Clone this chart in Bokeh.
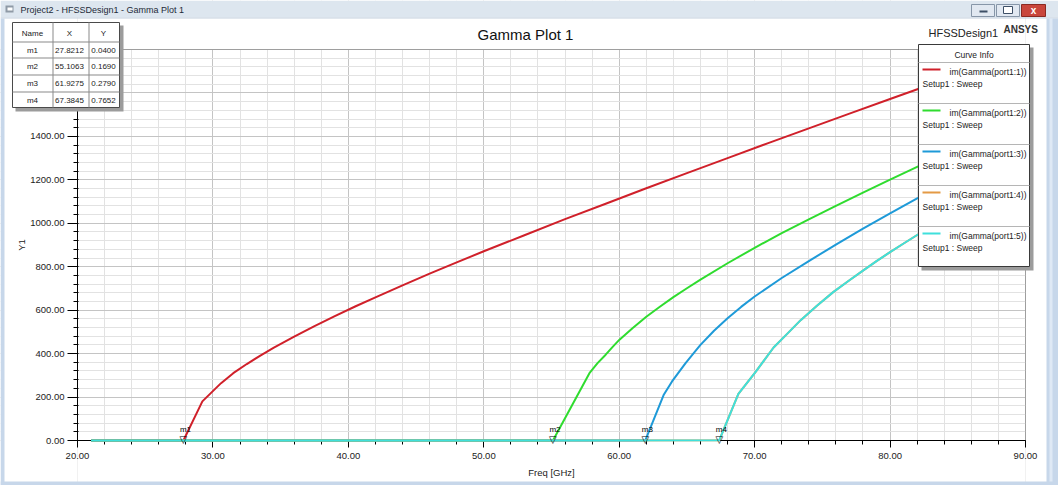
from bokeh.plotting import figure
from bokeh.models import (Range1d, FixedTicker, PrintfTickFormatter, BoxAnnotation,
                          Label, ColumnDataSource)
from bokeh.core.properties import value
from bokeh.embed import file_html
from bokeh.resources import INLINE

# ---------------- data ----------------
freq_p1 = [21.0, 27.8212, 29.22, 30.6, 31.5, 32.5, 33.5, 34.5, 36.0, 37.5, 39.0,
           40.5, 42.0, 44.0, 46.0, 48.0, 50.0, 53.0, 56.0, 59.0, 62.0, 65.0,
           68.0, 71.0, 74.0, 77.0, 80.0, 83.0, 86.0, 90.0]
im_p1 = [0.0, 0.04, 180, 264, 310, 352, 391, 428, 478, 527, 573,
         617, 659, 714, 768, 820, 871, 945, 1019, 1090, 1161, 1231,
         1300, 1369, 1437, 1505, 1572, 1639, 1705, 1790]

freq_p2 = [21.0, 55.1063, 57.8, 58.4, 59.0, 59.5, 60.0, 61.0, 62.0, 63.0, 64.0,
           65.0, 66.0, 68.0, 70.0, 72.0, 74.0, 76.0, 78.0, 80.0, 82.0, 86.0, 90.0]
im_p2 = [0.0, 0.169, 310, 356, 395, 430, 463, 518, 570, 616, 660,
         701, 741, 816, 887, 955, 1018, 1080, 1141, 1201, 1260, 1374, 1481]

freq_p3 = [21.0, 61.9275, 63.3, 63.9, 64.9, 65.5, 66.0, 67.0, 68.0, 69.0, 70.0,
           72.0, 74.0, 76.0, 78.0, 80.0, 82.0, 86.0, 90.0]
im_p3 = [0.0, 0.279, 212, 272, 356, 402, 440, 505, 563, 615, 663,
         748, 826, 902, 975, 1046, 1115, 1240, 1358]

freq_p4 = [21.0, 67.3845, 68.8, 70.06, 71.4, 72.4, 73.4, 74.6, 75.8, 77.0, 78.0,
           79.0, 80.0, 81.0, 82.0, 86.0, 90.0]
im_p4 = [0.0, 0.7652, 215, 315, 428, 491, 554, 620, 683, 738, 782,
         826, 867, 907, 946, 1090, 1226]

freq_p5 = [21.0, 67.3845, 68.8, 70.06, 71.4, 72.4, 73.4, 74.6, 75.8, 77.0, 78.0,
           79.0, 80.0, 81.0, 82.0, 86.0, 90.0]
im_p5 = [0.0, 0.7652, 215, 315, 428, 491, 554, 620, 683, 738, 782,
         826, 867, 907, 946, 1090, 1226]

curve_names = ["im(Gamma(port1:1))", "im(Gamma(port1:2))", "im(Gamma(port1:3))",
               "im(Gamma(port1:4))", "im(Gamma(port1:5))"]
curve_setup = "Setup1 : Sweep"
curve_colors = ["#d0202a", "#2fdc2f", "#1e9ad8", "#e49a45", "#3fe0dc"]

marker_names = ["m1", "m2", "m3", "m4"]
marker_x = [27.8212, 55.1063, 61.9275, 67.3845]
marker_y = [0.0400, 0.1690, 0.2790, 0.7652]

x_major = [20, 30, 40, 50, 60, 70, 80, 90]
x_minor = list(range(20, 91, 2))
y_major = [0, 200, 400, 600, 800, 1000, 1200, 1400, 1600, 1800]
y_minor = list(range(0, 1801, 40))
X_LIM = (20, 90)
Y_LIM = (0, 1800)

# ---------------- layout (canvas pixels) ----------------
W, H = 1058, 485
PL, PR, PT, PB = 77.0, 1025.0, 49.0, 440.0   # plot area inside the window
FONT = "Liberation Sans"

sx = (PR - PL) / (X_LIM[1] - X_LIM[0])
sy = (PB - PT) / (Y_LIM[1] - Y_LIM[0])
x_range = Range1d(X_LIM[0] - PL / sx, X_LIM[1] + (W - PR) / sx)
y_range = Range1d(Y_LIM[0] - (H - PB) / sy, Y_LIM[1] + PT / sy)

p = figure(width=W, height=H, output_backend="svg", toolbar_location=None, title=None,
           x_range=x_range, y_range=y_range, min_border=0)
p.background_fill_color = "white"
p.border_fill_color = "white"
p.outline_line_color = None

xa = p.xaxis[0]
xa.fixed_location = Y_LIM[0]
xa.bounds = X_LIM
xa.ticker = FixedTicker(ticks=x_major, minor_ticks=x_minor)
xa.formatter = PrintfTickFormatter(format="%.2f")
xa.axis_label = "Freq [GHz]"
xa.major_tick_out = 7
xa.major_tick_in = 0
xa.minor_tick_out = 4
xa.minor_tick_in = 0
xa.major_label_standoff = 5
xa.axis_label_standoff = 5

ya = p.yaxis[0]
ya.fixed_location = X_LIM[0]
ya.bounds = Y_LIM
ya.ticker = FixedTicker(ticks=y_major, minor_ticks=y_minor)
ya.formatter = PrintfTickFormatter(format="%.2f")
ya.axis_label = "Y1"
ya.major_tick_out = 10
ya.major_tick_in = 0
ya.minor_tick_out = 4
ya.minor_tick_in = 1
ya.major_label_standoff = 3
ya.axis_label_standoff = 0

for ax in (xa, ya):
    ax.axis_line_color = "#000000"
    ax.major_tick_line_color = "#000000"
    ax.minor_tick_line_color = "#000000"
    ax.major_label_text_font = FONT
    ax.major_label_text_font_size = "9.5px"
    ax.major_label_text_color = "#222222"
    ax.axis_label_text_font = FONT
    ax.axis_label_text_font_size = "9.5px"
    ax.axis_label_text_font_style = "normal"
    ax.axis_label_text_color = "#222222"

for g in (p.xgrid[0], p.ygrid[0]):
    g.grid_line_color = "#c4c4c4"
    g.grid_line_width = 1
    g.minor_grid_line_color = "#e2e2e2"
    g.minor_grid_line_width = 1


# ---------------- helpers for window chrome (canvas pixels) ----------------
def box(l, t, r, b, fill, line=None, lw=1, level="overlay", fill_alpha=1.0):
    ba = BoxAnnotation(left=l, right=r, top=t, bottom=b,
                       left_units="canvas", right_units="canvas",
                       top_units="canvas", bottom_units="canvas",
                       fill_color=fill, fill_alpha=fill_alpha,
                       line_color=line if line else "white",
                       line_alpha=1.0 if line else 0.0, line_width=lw,
                       level=level)
    p.add_layout(ba)


def text(x, y, s, size="8px", align="left", baseline="middle", color="#222222",
         style="normal", font=FONT):
    lab = Label(x=x, y=y, x_units="canvas", y_units="canvas", text=s,
                text_font=font, text_font_size=size, text_align=align,
                text_baseline=baseline, text_color=color, text_font_style=style,
                level="overlay")
    p.add_layout(lab)


# white covers outside the plot area (hide grid lines beyond the frame)
box(0, 0, PL, H, "white", level="underlay")
box(PR, 0, W, H, "white", level="underlay")
box(PL, 0, PR, PT, "white", level="underlay")
box(PL, PB, PR, H, "white", level="underlay")

# plot border (top / right edges)
p.add_layout(BoxAnnotation(left=X_LIM[0], right=X_LIM[1], bottom=Y_LIM[0], top=Y_LIM[1],
                           fill_alpha=0.0, line_color="#000000", line_width=1,
                           level="guide"))

# ---------------- curves ----------------
series = [(freq_p1, im_p1), (freq_p2, im_p2), (freq_p3, im_p3),
          (freq_p4, im_p4), (freq_p5, im_p5)]
for (fx, fy), col in zip(series, curve_colors):
    p.line(fx, fy, line_color=col, line_width=2, line_join="round", level="annotation")

# ---------------- markers ----------------
msrc = ColumnDataSource(dict(x=marker_x, y=marker_y, name=marker_names))
p.text(x="x", y="y", text=value("\u25bd"), source=msrc, text_font=value("DejaVu Sans"),
       text_font_size="10px", text_align="center", text_baseline="alphabetic",
       text_color="#000000", y_offset=-1, level="annotation")
p.text(x="x", y="y", text="name", source=msrc, text_font=value(FONT),
       text_font_size="8px", text_align="left", text_baseline="bottom",
       text_color="#000000", x_offset=-3.5, y_offset=-6, level="annotation")

# ---------------- window chrome ----------------
box(0, 0, W, 17, "#dde6ef")
box(0, 17, W, 18, "#c3d0de")
box(5, 5, 13, 12, "#8f9aa6")
box(7, 7, 12, 10, "#ffffff")
text(20, 9.5, "Project2 - HFSSDesign1 - Gamma Plot 1", size="9px", color="#1e2a38")
box(971, 4, 994, 16, "#e1e8f1", line="#8796a8")
box(979, 10, 987, 12, "#3d4f66")
box(996, 4, 1019, 16, "#e1e8f1", line="#8796a8")
box(1003, 6, 1012, 13, "#ffffff", line="#3d4f66")
box(1021, 4, 1045, 16, "#c9463c", line="#8a2a22")
text(1033, 10, "x", size="10px", align="center", color="#ffffff", style="bold")
box(0, 18, 4, H, "#c7d7ea")
box(1046, 18, W, H, "#c7d7ea")
box(1049, 18, 1052, H, "#dfe9f5")
box(0, 481, W, H, "#c7d7ea")

# titles
text(525, 34, "Gamma Plot 1", size="15px", align="center", color="#111111")
text(928, 32, "HFSSDesign1", size="11px", color="#222222")
text(1003, 29, "ANSYS", size="10px", style="bold", color="#333333")

# marker table
box(15, 25, 123, 111, "#9c9c9c")
box(12, 22, 119, 107, "#ffffff", line="#4a4a4a")
for xv in (52, 88):
    box(xv, 22, xv + 1, 107, "#8a8a8a")
for yv in (41, 57, 74, 91):
    box(12, yv, 119, yv + 1, "#8a8a8a")
col_cx = [32, 69, 103]
text(col_cx[0], 32.5, "Name", align="center")
text(col_cx[1], 32.5, "X", align="center")
text(col_cx[2], 32.5, "Y", align="center")
row_cy = [49.5, 66, 83, 99.5]
for i in range(4):
    text(col_cx[0], row_cy[i], marker_names[i], align="center")
    text(col_cx[1], row_cy[i], "%.4f" % marker_x[i], align="center")
    text(col_cx[2], row_cy[i], "%.4f" % marker_y[i], align="center")

# curve info box
box(921, 47, 1033, 270, "#9c9c9c")
box(918, 44, 1029, 266, "#ffffff", line="#3a3a3a")
text(973.5, 54, "Curve Info", size="8.5px", align="center")
box(918, 61.5, 1029, 62.5, "#b5b5b5")
for k in range(5):
    y0 = 62 + 41 * k
    if k > 0:
        box(918, y0 - 0.5, 1029, y0 + 0.5, "#b5b5b5")
    box(922, y0 + 6, 940, y0 + 8, curve_colors[k])
    text(949, y0 + 9.7, curve_names[k], size="8.5px")
    text(922, y0 + 21.3, curve_setup, size="8.5px")

html = file_html(p, INLINE)
open("out.html", "w").write(html)
